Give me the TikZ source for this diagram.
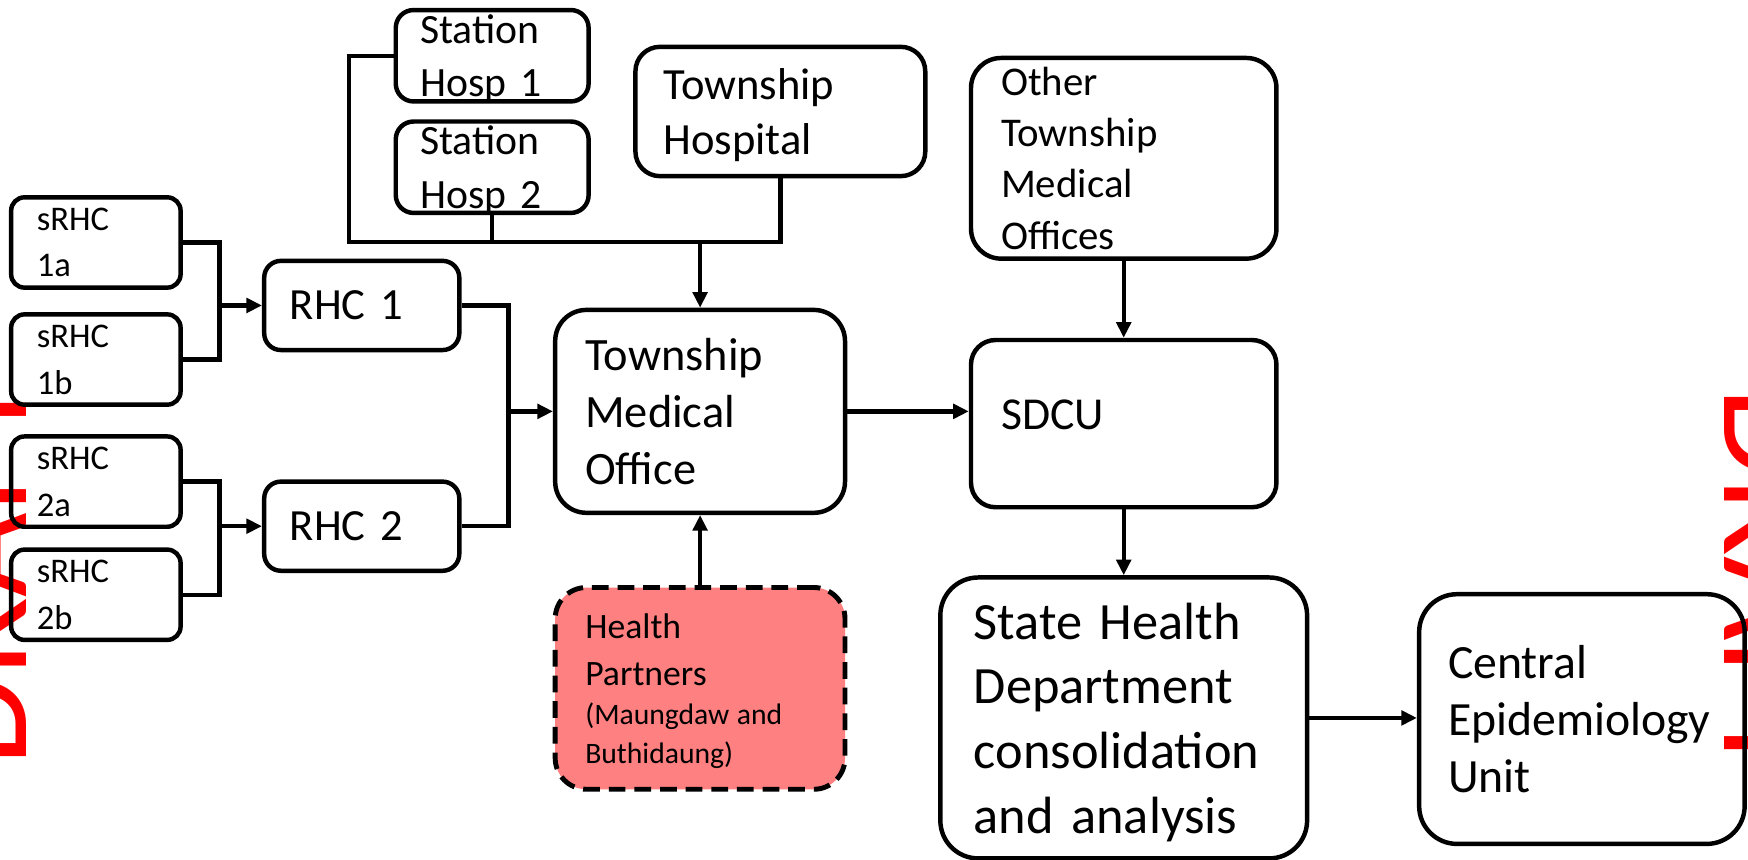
\documentclass[tikz,border=0pt]{standalone}
\usepackage{fontspec}
\setmainfont{Carlito}
\usetikzlibrary{arrows.meta,positioning}

\definecolor{partner}{RGB}{255,128,128}

\tikzset{
  unit/.style={draw, line width=2pt, rounded corners=#1, align=left, inner ysep=0pt},
  unit/.default=8pt,
  sunit/.style={unit=6pt, text width=53pt, inner xsep=11.5pt, minimum height=40.5pt, font=\fontsize{15.5}{21}\selectfont},
  runit/.style={unit=7.5pt, text width=64.5pt, inner xsep=11.5pt, minimum height=40pt, font=\fontsize{20}{24}\selectfont},
  hunit/.style={unit=8pt, text width=64.5pt, inner xsep=11pt, minimum height=41pt, text depth=24pt, font=\fontsize{18.7}{24}\selectfont},
  link/.style={line width=2pt},
  arr/.style={link, -{Triangle[length=7pt, width=6.5pt]}},
  draft/.style={text=red, inner sep=0pt, font=\fontsize{65.5}{70}\selectfont}
}

\begin{document}
\begin{tikzpicture}[x=0.5pt, y=0.5pt]
        \useasboundingbox (0,0) rectangle (1568,-771);
        \clip (0,0) rectangle (1568,-771);
        \node[draft, rotate=90, anchor=base west] (dl) at (24,-688) {DRAFT};
        \node[draft, rotate=-90, anchor=base west] (dr) at (1547,-347) {DRAFT};

        \node[sunit] (s1a) at (86,-217.5) {sRHC\\1a};
        \node[sunit] (s1b) at (86,-322.5) {sRHC\\1b};
        \node[sunit] (s2a) at (86,-432) {sRHC\\2a};
        \node[sunit] (s2b) at (86,-533.5) {sRHC\\2b};
        \node[runit] (rhc1) at (324.5,-274) {RHC 1};
        \node[runit, below of=rhc1, node distance=99pt] (rhc2) {RHC 2};

        \node[hunit] (sh1) at (441.5,-50) {Station\\Hosp 1};
        \node[hunit] (sh2) at (441.5,-150) {Station\\Hosp 2};
        \node[unit=11pt, text width=105pt, inner xsep=12.5pt, minimum height=58pt, text depth=25pt, font=\fontsize{20}{25}\selectfont] (th) at (700,-100) {Township\\Hospital};

        \node[unit=14pt, text width=103pt, inner xsep=13.5pt, minimum height=91pt, font=\fontsize{20.8}{25.5}\selectfont] (tmo) at (628,-369) {Township\\Medical\\Office};
        \node[unit=14pt, text width=103pt, inner xsep=13.5pt, minimum height=90.5pt, text depth=56pt, line width=2.2pt, dash pattern=on 7.5pt off 4pt, fill=partner] (hp) at (628,-617.5) {\fontsize{16}{21}\selectfont Health\\Partners\par\fontsize{13.3}{17.5}\selectfont (Maungdaw and\\Buthidaung)\par};

        \node[unit=13.5pt, text width=110pt, inner xsep=13.5pt, minimum height=90pt, font=\fontsize{18.3}{23}\selectfont] (otmo) at (1008,-142) {Other\\Township\\Medical\\Offices};
        \node[unit=11pt, text width=110pt, inner xsep=13.5pt, minimum height=75pt, text depth=8pt, font=\fontsize{20.5}{25}\selectfont, below of=otmo, node distance=119pt] (sdcu) {SDCU};
        \node[unit=17pt, text width=134.5pt, inner xsep=15pt, minimum height=126pt, text depth=87pt, font=\fontsize{23.5}{29}\selectfont, below of=sdcu, node distance=132pt] (shd) {State Health\\Department\\consolidation\\and analysis};
        \node[unit=17pt, text width=120pt, inner xsep=13pt, minimum height=112pt, font=\fontsize{21.4}{25.5}\selectfont] (ceu) at (1419,-645) {Central\\Epidemiology\\Unit};

        \coordinate (j1) at (197,-274);
        \coordinate (j2) at (197,-472);
        \coordinate (j3) at (456,-369);
        \coordinate (j4) at (628,-217);
        \coordinate (bend) at (313,-217);

        \draw[link] (s1a.east) -| (j1) |- (s1b.east);
        \draw[arr] (j1) -- (rhc1.west);
        \draw[link] (s2a.east) -| (j2) |- (s2b.east);
        \draw[arr] (j2) -- (rhc2.west);
        \draw[link] (rhc1.east) -| (j3) |- (rhc2.east);
        \draw[arr] (j3) -- (tmo.west);
        \draw[link] (sh1.west) -| (bend) -- (j4);
        \draw[link] (sh2.south) |- (j4);
        \draw[link] (th.south) |- (j4);
        \draw[arr] (j4) -- (tmo.north);
        \draw[arr] (hp.north) -- (tmo.south);
        \draw[arr] (tmo.east) -- (tmo.east -| sdcu.west);
        \draw[arr] (otmo.south) -- (sdcu.north);
        \draw[arr] (sdcu.south) -- (shd.north);
        \draw[arr] (shd.east) -- (shd.east -| ceu.west);
      \end{tikzpicture}
\end{document}
